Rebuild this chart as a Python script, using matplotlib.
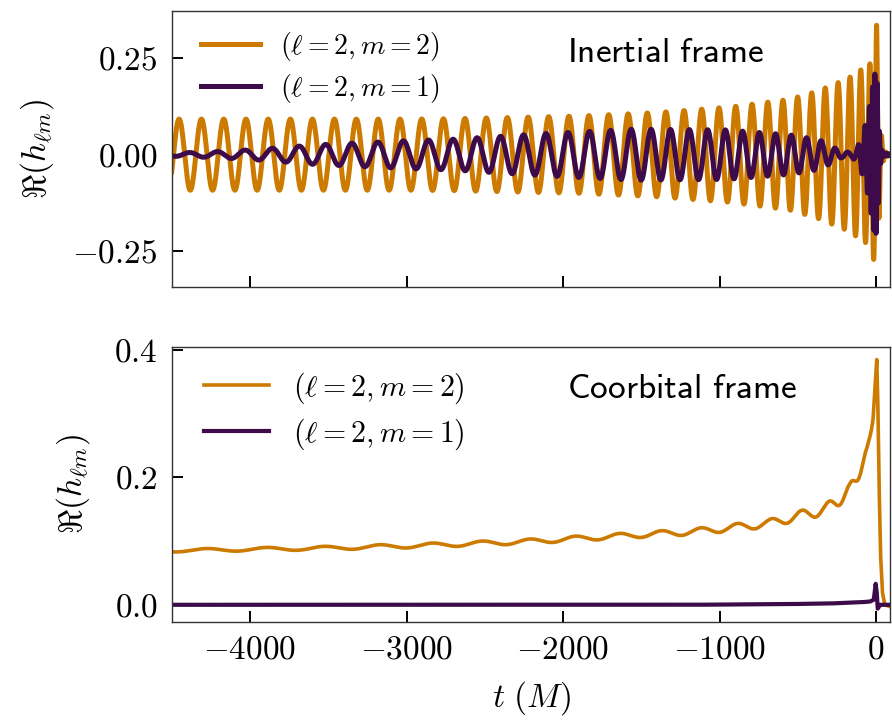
import numpy as np
import matplotlib
matplotlib.use("Agg")
import matplotlib.pyplot as plt
from matplotlib.ticker import FuncFormatter

plt.rcParams["font.family"] = "serif"
plt.rcParams["font.serif"] = ["cmr10"]
plt.rcParams["mathtext.fontset"] = "cm"
plt.rcParams["axes.formatter.use_mathtext"] = True

c22 = "#cc7a00"
c21 = "#3d0a4a"

# --- inertial frame: amplitude envelope and period (M) read at sample times
amp22_t = [-4500, -3000, -2700, -1900, -1400, -940, -555, -377, -180, -40, -10, 3, 15, 30, 50, 90]
amp22_v = [0.092, 0.092, 0.093, 0.100, 0.109, 0.123, 0.143, 0.164, 0.197, 0.235, 0.28, 0.335, 0.2, 0.06, 0.01, 0.0]
per22_t = [-4500, -4000, -2700, -1600, -900, -500, -250, -100, -30, 0, 90]
per22_v = [143, 142, 138, 124, 106, 92, 81, 65, 50, 35, 20]

amp21_t = [-4500, -4200, -3900, -3600, -3000, -2700, -2100, -1550, -950, -550, -360, -275,
           -220, -160, -120, -90, -60, -40, -25, -10, 5, 15, 25, 40, 60, 90]
amp21_v = [0.004, 0.008, 0.015, 0.025, 0.036, 0.040, 0.055, 0.066, 0.064, 0.051, 0.038, 0.02,
           0.008, 0.006, 0.02, 0.05, 0.09, 0.13, 0.17, 0.21, 0.2, 0.12, 0.03, 0.006, 0.003, 0.002]
per21_t = [-4500, -4000, -3000, -2700, -1650, -800, -450, -300, -150, -60, -20, 90]
per21_v = [180, 175, 162, 155, 132, 107, 96, 90, 70, 30, 15, 15]

# --- coorbital frame: slow (2,2) level, its small wiggle, and the (2,1) blip
co22_t = [-4500, -4000, -3500, -2900, -2250, -1700, -1150, -700, -320, -170, -60, -20,
          4, 10, 18, 28, 40, 55, 90]
co22_v = [0.085, 0.087, 0.089, 0.093, 0.099, 0.107, 0.115, 0.127, 0.150, 0.178, 0.235, 0.29,
          0.385, 0.33, 0.2, 0.08, 0.02, 0.0, -0.003]
wig_t = [-4500, -3000, -1500, -700, -300, -150, -60, -20]
wig_a = [0.0022, 0.0032, 0.0042, 0.006, 0.009, 0.011, 0.010, 0.0]
wigper_t = [-4500, -3900, -2900, -2300, -1700, -1150, -700, -400, -200, -80, 0]
wigper_v = [390, 380, 330, 300, 280, 245, 210, 175, 130, 100, 80]

co21_t = [-4500, -1200, -600, -300, -100, -40, -15, -3, 4, 10, 16, 25, 90]
co21_v = [0.0, 0.0, 0.001, 0.002, 0.004, 0.005, 0.008, 0.033, 0.02, -0.006, -0.004, 0.0, 0.0]

t = np.linspace(-4500, 90, 24000)
dt = t[1] - t[0]


def phase(tk, pk, t_ref):
    ph = 2 * np.pi * np.cumsum(1.0 / np.interp(t, tk, pk)) * dt
    return ph - np.interp(t_ref, t, ph)


h22 = np.interp(t, amp22_t, amp22_v) * np.cos(phase(per22_t, per22_v, 3.0))
h21 = np.interp(t, amp21_t, amp21_v) * np.cos(phase(per21_t, per21_v, -8.0))
k22 = np.interp(t, co22_t, co22_v) + np.interp(t, wig_t, wig_a) * np.cos(phase(wigper_t, wigper_v, -60.0))
k21 = np.interp(t, co21_t, co21_v)

fig = plt.figure(figsize=(8.92, 7.2), dpi=100)
ax1 = fig.add_axes([0.1925, 0.6014, 0.8055, 0.3837])
ax2 = fig.add_axes([0.1925, 0.1361, 0.8055, 0.3824])

ax1.plot(t, h22, color=c22, lw=3.6, label=r"$(\ell=2, m=2)$")
ax1.plot(t, h21, color=c21, lw=3.6, label=r"$(\ell=2, m=1)$")
ax1.legend(loc="upper left", bbox_to_anchor=(0.014, 1.0), fontsize=20, frameon=False,
           handlelength=2.1, handletextpad=0.72, borderaxespad=0.3, labelspacing=0.3)
ax1.text(0.688, 0.845, r"$\mathsf{Inertial\ frame}$", transform=ax1.transAxes,
         fontsize=25.5, ha="center", va="center")
ax1.set_ylim(-0.3425, 0.3725)
ax1.set_yticks([-0.25, 0.0, 0.25])
ax1.yaxis.set_major_formatter(FuncFormatter(lambda v, p: r"$%.2f$" % v))
ax1.set_xticklabels([])
ax1.set_ylabel(r"$\Re(h_{\ell m})$", fontsize=24, labelpad=12)

ax2.plot(t, k22, color=c22, lw=2.6, label=r"$(\ell=2, m=2)$")
ax2.plot(t, k21, color=c21, lw=3.0, label=r"$(\ell=2, m=1)$")
ax2.legend(loc="upper left", bbox_to_anchor=(0.011, 1.0), fontsize=21.5, frameon=False,
           handlelength=2.2, handletextpad=0.8, borderaxespad=0.4, labelspacing=0.35)
ax2.text(0.71, 0.844, r"$\mathsf{Coorbital\ frame}$", transform=ax2.transAxes,
         fontsize=25.5, ha="center", va="center")
ax2.set_ylim(-0.027, 0.405)
ax2.set_yticks([0.0, 0.2, 0.4])
ax2.yaxis.set_major_formatter(FuncFormatter(lambda v, p: r"$%.1f$" % v))
ax2.xaxis.set_major_formatter(FuncFormatter(lambda v, p: r"$%d$" % v))
ax2.set_xlabel(r"$t\ (M)$", fontsize=24, labelpad=10)
ax2.set_ylabel(r"$\Re(h_{\ell m})$", fontsize=24, labelpad=16)

for ax in (ax1, ax2):
    ax.set_xlim(-4500, 90)
    ax.set_xticks([-4000, -3000, -2000, -1000, 0])
    ax.tick_params(direction="in", length=8, width=1.4, labelsize=24, pad=10)
    for s in ax.spines.values():
        s.set_color("#333333")
        s.set_linewidth(1.0)

fig.savefig("out.png", dpi=100)
